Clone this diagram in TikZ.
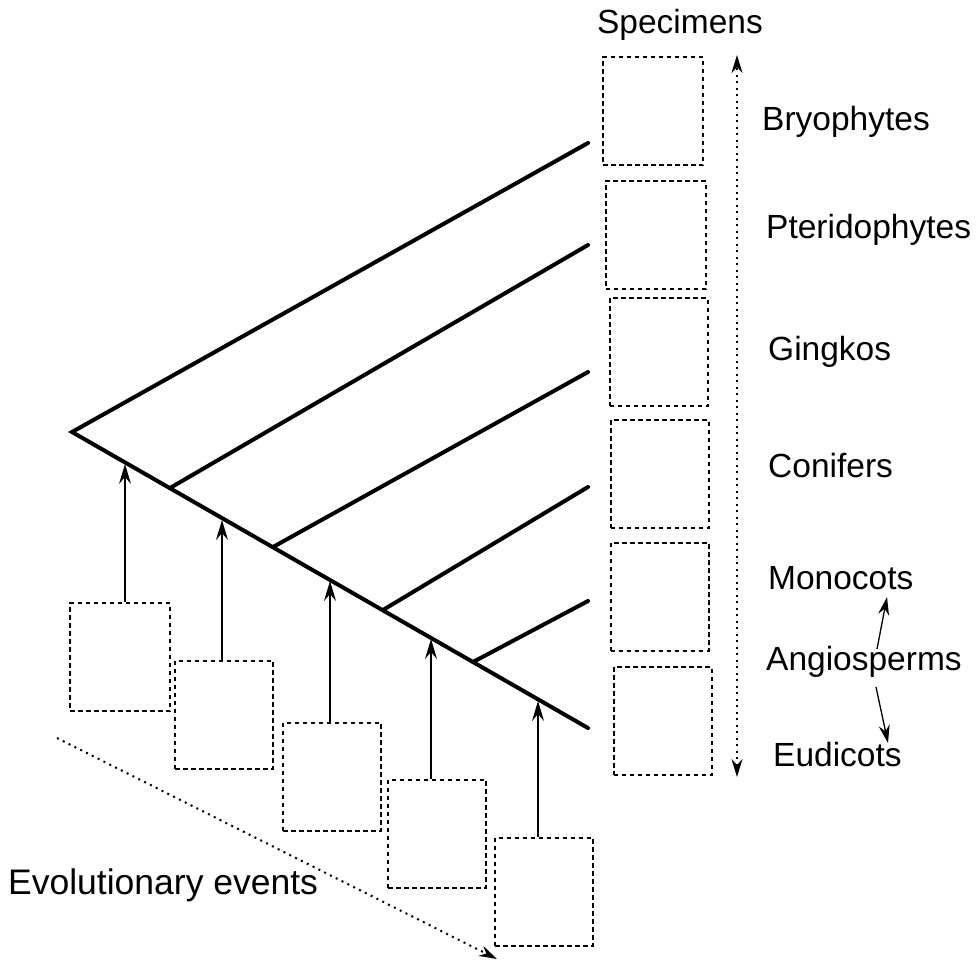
\documentclass[tikz,border=0pt]{standalone}
\usepackage{fontspec}
\setmainfont{Liberation Sans}
\usetikzlibrary{arrows.meta, positioning, calc}

\tikzset{
  branch/.style={line width=4pt, line cap=round, line join=miter},
  sample/.style={draw, dash pattern=on 4.5pt off 3.5pt, line width=2pt, minimum width=98pt, minimum height=108pt, inner sep=0pt},
  event/.style={-{Stealth[length=20pt, width=12pt, inset=7pt]}, line width=1.3pt},
  split/.style={-{Stealth[length=18pt, width=11pt, inset=6pt]}, line width=1.3pt},
  axis/.style={line width=2pt, dash pattern=on 2pt off 4.5pt},
  lbl/.style={anchor=west, inner sep=0pt, font=\fontsize{33.5}{38}\selectfont}
}

\begin{document}
\begin{tikzpicture}[x=1pt, y=-1pt]
  \useasboundingbox (0,0) rectangle (976,964);

  % Tree
  \coordinate (root) at (72,432);
  \coordinate (top) at (588,143);
  \coordinate (bot) at (588,728);
  \coordinate (e2) at (588,245);
  \coordinate (e3) at (588,372);
  \coordinate (e4) at (588,487);
  \coordinate (e5) at (588,601);
  \coordinate (b2) at (170,488);
  \coordinate (b3) at (273,547);
  \coordinate (b4) at (383,610);
  \coordinate (b5) at (473,662);
  \draw[branch] (top) -- (root) -- (bot);
  \draw[branch] (b2) -- (e2);
  \draw[branch] (b3) -- (e3);
  \draw[branch] (b4) -- (e4);
  \draw[branch] (b5) -- (e5);

  % Specimens
  \node (spec) at (680,25) [font=\fontsize{33.5}{38}\selectfont, inner sep=0pt] {Specimens};
  \node[sample, minimum width=100pt] (sp1) at (653,111) {};
  \node[sample, minimum width=100pt] (sp2) at (655.5,235) {};
  \node[sample] (sp3) at (658.5,352) {};
  \node[sample] (sp4) at (659.5,474) {};
  \node[sample] (sp5) at (659.5,596.5) {};
  \node[sample] (sp6) at (662.5,721) {};

  \coordinate (vtop) at (737,55);
  \coordinate (vbot) at (737,777);
  \draw[axis, {Stealth[length=18pt, width=11pt, inset=6pt]}-{Stealth[length=18pt, width=11pt, inset=6pt]}] (vbot) -- (vtop);

  \node[lbl] (bryo) at (762,122) {Bryophytes};
  \node[lbl] (pter) at (766,230) {Pteridophytes};
  \node[lbl] (ging) at (768,352) {Gingkos};
  \node[lbl] (coni) at (768,466) {Conifers};
  \node[lbl] (mono) at (768,578) {Monocots};
  \node[lbl] (angi) at (766,662) {Angiosperms};
  \node[lbl] (eudi) at (773,755) {Eudicots};
  \coordinate (m0) at (877,649);
  \coordinate (m1) at (887,597);
  \coordinate (d0) at (876,687);
  \coordinate (d1) at (888,743);
  \draw[split] (m0) -- (m1);
  \draw[split] (d0) -- (d1);

  % Evolutionary events
  \node[sample, minimum width=100pt] (ev1) at (120,657) {};
  \node[sample] (ev2) at (224,714.5) {};
  \node[sample] (ev3) at (332,776.5) {};
  \node[sample] (ev4) at (437,833.5) {};
  \node[sample] (ev5) at (544,891.5) {};

  \coordinate (a1) at (125,464);
  \coordinate (a2) at (222,520);
  \coordinate (a3) at (330,581);
  \coordinate (a4) at (431,639);
  \coordinate (a5) at (538,701);
  \draw[event] (ev1.north -| a1) -- (a1);
  \draw[event] (ev2.north -| a2) -- (a2);
  \draw[event] (ev3.north -| a3) -- (a3);
  \draw[event] (ev4.north -| a4) -- (a4);
  \draw[event] (ev5.north -| a5) -- (a5);

  \coordinate (t0) at (57,738);
  \coordinate (t1) at (497,959);
  \draw[axis, -{Stealth[length=18pt, width=11pt, inset=6pt]}] (t0) -- (t1);
  \node[lbl, font=\fontsize{35.5}{40}\selectfont] (evol) at (8,885) {Evolutionary events};
\end{tikzpicture}
\end{document}
